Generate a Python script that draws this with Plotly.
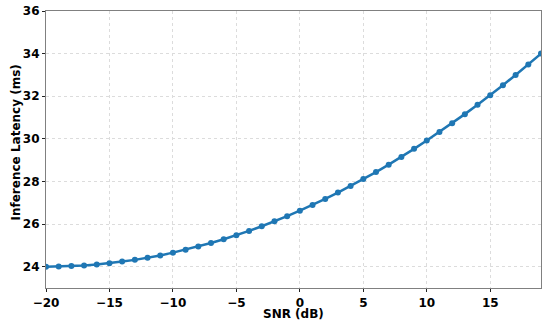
import plotly.graph_objects as go

snr_db = list(range(-20, 20))
latency_ms = [
    24.00, 24.01, 24.03, 24.06, 24.10, 24.16, 24.24, 24.32, 24.42, 24.53,
    24.66, 24.80, 24.95, 25.11, 25.29, 25.48, 25.68, 25.90, 26.13, 26.37,
    26.63, 26.90, 27.18, 27.48, 27.79, 28.11, 28.44, 28.79, 29.15, 29.53,
    29.92, 30.32, 30.73, 31.16, 31.60, 32.05, 32.52, 33.00, 33.49, 34.00,
]
x_ticks = [-20, -15, -10, -5, 0, 5, 10, 15]
y_ticks = [24, 26, 28, 30, 32, 34, 36]

FONT = "DejaVu Sans"

fig = go.Figure(
    go.Scatter(
        x=snr_db,
        y=latency_ms,
        mode="lines+markers",
        line=dict(color="#1f77b4", width=2.5),
        marker=dict(color="#1f77b4", size=6),
        showlegend=False,
    )
)

axis_common = dict(
    showline=True,
    linecolor="#808080",
    linewidth=1.2,
    mirror=True,
    showgrid=True,
    gridcolor="#dcdcdc",
    griddash="dot",
    gridwidth=1,
    ticks="outside",
    ticklen=3,
    tickcolor="#222222",
    zeroline=False,
    automargin=False,
    ticklabeloverflow="allow",
    tickfont=dict(family=FONT, size=12, color="black"),
)

fig.update_xaxes(
    range=[-20, 19],
    tickvals=x_ticks,
    ticktext=["<b>%s</b>" % str(v).replace("-", "\u2212") for v in x_ticks],
    **axis_common,
)
fig.update_yaxes(
    range=[23, 36],
    tickvals=y_ticks,
    ticktext=["<b>%d</b>" % v for v in y_ticks],
    **axis_common,
)

# axis titles as annotations so they sit where the reference has them
title_font = dict(family=FONT, size=12, color="black")
fig.add_annotation(
    text="<b>SNR (dB)</b>", xref="paper", yref="paper", x=0.5, y=0,
    xanchor="center", yanchor="middle", yshift=-26, showarrow=False, font=title_font,
)
fig.add_annotation(
    text="<b>Inference Latency (ms)</b>", xref="paper", yref="paper", x=0, y=0.5,
    xanchor="center", yanchor="middle", xshift=-31, yshift=7, textangle=-90,
    showarrow=False, font=title_font,
)

fig.update_layout(
    width=550,
    height=328,
    plot_bgcolor="white",
    paper_bgcolor="white",
    margin=dict(l=46, r=9, t=11, b=40),
)

# drop the browser's default 8px body margin so the figure fills the window
fig.write_html(
    "out.html",
    config={"displayModeBar": False},
    post_script="document.body.style.margin='0';",
)
